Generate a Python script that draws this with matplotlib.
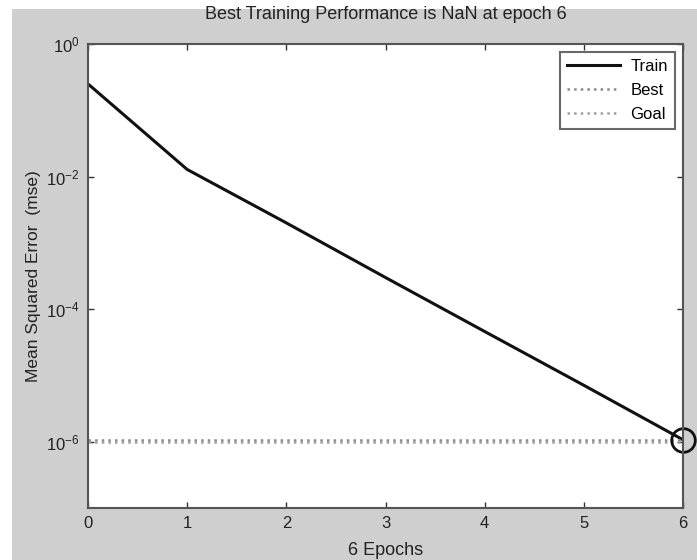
import matplotlib
matplotlib.use('Agg')
import matplotlib.pyplot as plt
import matplotlib.patches as mpatches
import numpy as np

plt.rcParams['font.family'] = ['Liberation Sans', 'DejaVu Sans']
plt.rcParams['mathtext.fontset'] = 'custom'
plt.rcParams['mathtext.rm'] = 'Liberation Sans'

# values
epochs = [0, 1, 2, 3, 4, 5, 6]
train = [0.25, 0.0128, 2.0e-3, 3.0e-4, 4.6e-5, 7.1e-6, 1.07e-6]
best_val = 1.07e-6
goal_val = 1.0e-6
best_epoch = 6

fig = plt.figure(figsize=(6.97, 5.6), dpi=100)
fig.patch.set_facecolor('white')
# grey matlab figure background
bg = mpatches.Rectangle((12/697, 0), 1, 1 - 9/560, transform=fig.transFigure,
                        facecolor='#cfcfcf', edgecolor='none', zorder=-10)
fig.add_artist(bg)

ax = fig.add_axes([88/697, 1 - 508/560, (683 - 88)/697, (508 - 44)/560])
ax.set_zorder(5)
ax.set_facecolor('white')

ax.plot(epochs, train, color='#111111', lw=2.2, label='Train')
ax.plot([epochs[0], epochs[-1]], [best_val, best_val], color='#8a8a8a', ls=':', lw=1.8, label='Best')
ax.plot([epochs[0], epochs[-1]], [goal_val, goal_val], color='#a0a0a0', ls=':', lw=1.8, label='Goal')
ax.plot([best_epoch], [best_val], 'o', ms=17, mfc='none', mec='#111111', mew=2, clip_on=False)

ax.set_yscale('log')
ax.set_xlim(0, 6)
ax.set_ylim(1e-7, 1)
ax.set_yticks([1e0, 1e-2, 1e-4, 1e-6])
ax.set_yticklabels([r'$\mathrm{10^{0}}$', r'$\mathrm{10^{-2}}$', r'$\mathrm{10^{-4}}$', r'$\mathrm{10^{-6}}$'])
ax.yaxis.set_minor_locator(matplotlib.ticker.NullLocator())
ax.set_xticks(epochs)
ax.tick_params(direction='in', length=4, width=1, colors='#333333', labelsize=12,
               top=True, right=True, labelcolor='#222222', pad=6)
for s in ax.spines.values():
    s.set_color('#555555')
    s.set_linewidth(1.5)

ax.set_title('Best Training Performance is NaN at epoch 6', fontsize=13, color='#222222', pad=18)
ax.set_xlabel('6 Epochs', fontsize=13, color='#222222', labelpad=8)
ax.set_ylabel('Mean Squared Error  (mse)', fontsize=12.5, color='#222222', labelpad=4)

leg = ax.legend(loc='upper right', fontsize=12, frameon=True, fancybox=False,
                edgecolor='#444444', borderaxespad=0.5, handlelength=3.2, labelspacing=0.55,
                handletextpad=0.6)
leg.get_frame().set_linewidth(1.5)

fig.savefig('out.png', dpi=100)
